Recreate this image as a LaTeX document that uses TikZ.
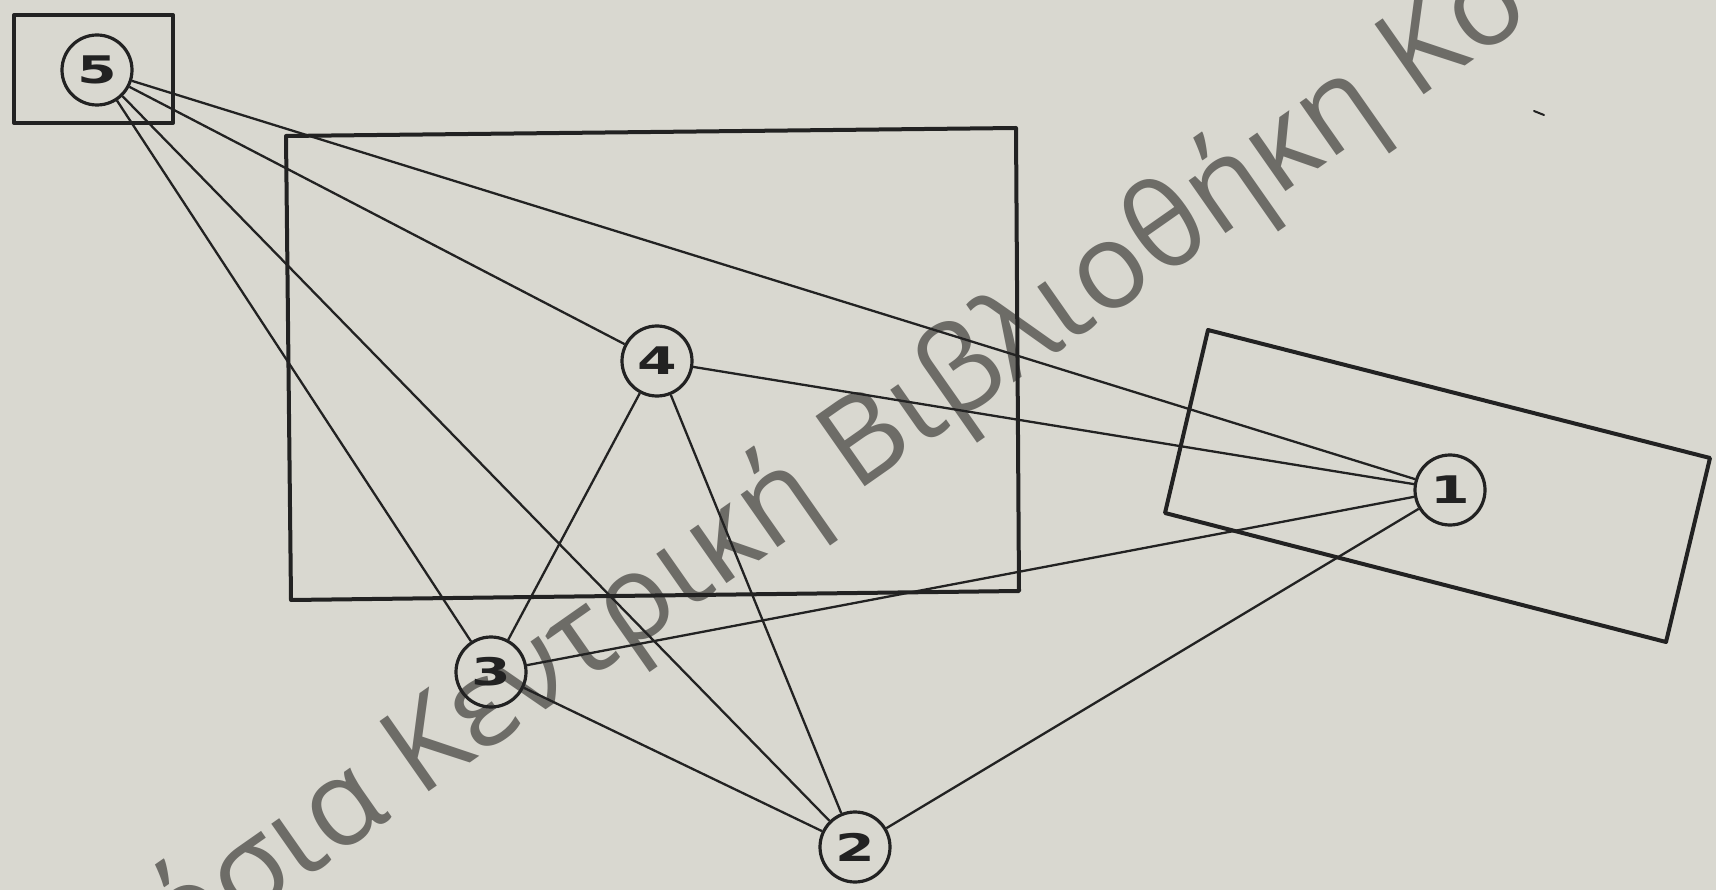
\documentclass[tikz,border=0pt]{standalone}
\usepackage{graphicx}
\usepackage{fontspec}
\setmainfont{Open Sans}
\newfontfamily\digitfont{DejaVu Sans}
\definecolor{bg}{HTML}{D9D8D0}
\definecolor{ink}{HTML}{222222}
\definecolor{wmgray}{HTML}{6D6C67}
\tikzset{
  num/.style={circle, draw=ink, line width=3.2pt, minimum size=70pt, inner sep=0pt,
              font=\digitfont\bfseries\fontsize{38}{38}\selectfont, text=ink},
  link/.style={draw=ink, line width=2.3pt},
  frame/.style={draw=ink, line width=4pt, line join=round},
  wmark/.style={text=wmgray, font=\fontsize{120}{120}\selectfont, inner sep=0pt},
}
\newcommand{\wdig}[1]{\scalebox{1.5}[1]{#1}}
\begin{document}
\begin{tikzpicture}[x=1pt,y=-1pt]
\fill[bg] (0,0) rectangle (1716,890);
\useasboundingbox (0,0) rectangle (1716,890);
% watermark
\begin{scope}
\clip (0,0) rectangle (1716,890);
\node[wmark, anchor=base west, rotate=35] (wm) at (419,799) {\llap{όσια }Κεντρική Βιβλιοθήκη Κο};
\end{scope}
% frames
\draw[frame] (14,15) rectangle (173,123);
\draw[frame] (286,136) -- (1016,128) -- (1019,591) -- (291,600) -- cycle;
\draw[frame] (1208,330) -- (1710,458) -- (1666,642) -- (1165,513) -- cycle;
% nodes
\node[num] (n5) at (97,70) {\wdig{5}};
\node[num] (n4) at (657,361) {\wdig{4}};
\node[num] (n3) at (491,672) {\wdig{3}};
\node[num] (n2) at (855,847) {\wdig{2}};
\node[num] (n1) at (1450,490) {\wdig{1}};
% connectors
\draw[link] (n5) -- (n4);
\draw[link] (n5) -- (n1);
\draw[link] (n5) -- (n3);
\draw[link] (n5) -- (n2);
\draw[link] (n4) -- (n1);
\draw[link] (n4) -- (n3);
\draw[link] (n4) -- (n2);
\draw[link] (n3) -- (n1);
\draw[link] (n3) -- (n2);
\draw[link] (n2) -- (n1);
% small speck
\draw[ink, line width=2pt, line cap=round] (1534,111) -- (1544,115);
\end{tikzpicture}
\end{document}
